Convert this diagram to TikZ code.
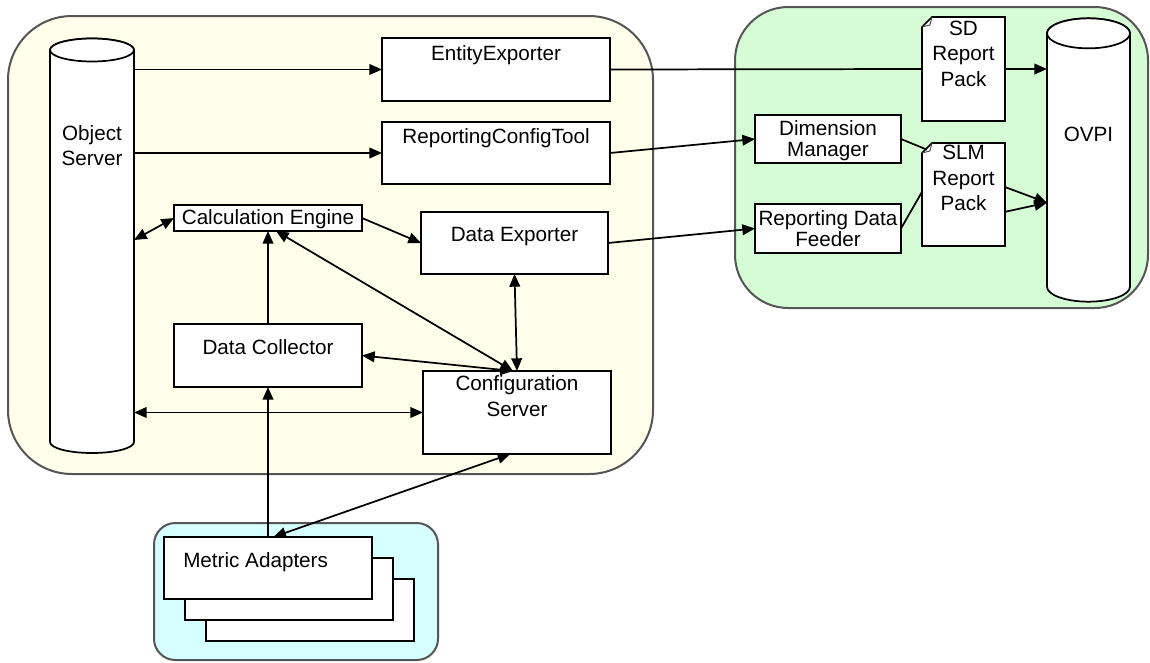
\documentclass[tikz,border=0pt]{standalone}
\usepackage{fontspec}
\setmainfont{Liberation Sans}
\usetikzlibrary{arrows.meta,calc}
\definecolor{paneYellow}{RGB}{255,255,236}
\definecolor{paneGreen}{RGB}{214,252,214}
\definecolor{paneBlue}{RGB}{214,255,255}
\definecolor{paneEdge}{RGB}{85,85,85}

\begin{document}
\begin{tikzpicture}[x=0.75pt,y=-0.75pt,
  every node/.style={font=\fontsize{15.5}{19}\selectfont},
  pane/.style={draw=paneEdge,line width=1.5pt},
  box/.style={draw=black,line width=1.3pt,fill=white},
  slot/.style={inner sep=0pt,outer sep=0pt},
  lbl/.style={anchor=base,align=center,inner sep=0pt},
  tight/.style={font=\fontsize{15.5}{16}\selectfont},
  link/.style={line width=1.3pt},
  arr/.style={link,-{Triangle[length=9.5pt,width=8pt]}},
  darr/.style={link,{Triangle[length=9.5pt,width=8pt]}-{Triangle[length=9.5pt,width=8pt]}},
]
\useasboundingbox (0,0) rectangle (1150,662);

% ---- grouping panes ----
\draw[pane,fill=paneYellow,rounded corners=48pt] (8,16) rectangle (653,474);
\draw[pane,fill=paneGreen,rounded corners=40pt] (735,7) rectangle (1148,308);
\draw[pane,fill=paneBlue,rounded corners=16pt] (154,523) rectangle (438,660);

% ---- Object Server (cylinder) ----
\node[slot,minimum width=63pt,minimum height=294pt] (os) at (92,246) {};
\draw[box] (os.north west) -- (os.south west)
  arc[start angle=180,end angle=0,x radius=42,y radius=11]
  -- (os.north east)
  arc[start angle=0,end angle=-180,x radius=42,y radius=11.5] -- cycle;
\draw[box] (os.north) ellipse[x radius=42,y radius=11.5];
\node[lbl] (os-t) at (92,165.5) {Object\\Server};

% ---- OVPI (cylinder) ----
\node[slot,minimum width=62.25pt,minimum height=190pt] (ovpi) at (1088.5,160) {};
\draw[box] (ovpi.north west) -- (ovpi.south west)
  arc[start angle=180,end angle=0,x radius=41.5,y radius=15]
  -- (ovpi.north east)
  arc[start angle=0,end angle=-180,x radius=41.5,y radius=15] -- cycle;
\draw[box] (ovpi.north) ellipse[x radius=41.5,y radius=15];
\node[lbl] (ovpi-t) at (1088.5,141.7) {OVPI};

% ---- components ----
\node[box,slot,minimum width=171pt,minimum height=47.25pt] (ee) at (496,69.5) {};
\node[lbl] (ee-t) at (496,60.5) {EntityExporter};

\node[box,slot,minimum width=171pt,minimum height=46.5pt] (rct) at (496,153) {};
\node[lbl] (rct-t) at (496,143) {ReportingConfigTool};

\node[box,slot,minimum width=141pt,minimum height=19.5pt] (ce) at (268,218) {};
\node[lbl] (ce-t) at (268,224) {Calculation Engine};

\node[box,slot,minimum width=140.25pt,minimum height=46.5pt] (de) at (514.5,243) {};
\node[lbl] (de-t) at (514.5,241.5) {Data Exporter};

\node[box,slot,minimum width=141pt,minimum height=47.25pt] (dc) at (268,355.5) {};
\node[lbl] (dc-t) at (268,354) {Data Collector};

\node[box,slot,minimum width=141pt,minimum height=62.25pt] (cs) at (517,412.5) {};
\node[lbl] (cs-t) at (517,416) {Configuration\\Server};

\node[box,slot,minimum width=109.5pt,minimum height=36pt] (dm) at (828,139) {};
\node[lbl,tight] (dm-t) at (828,156.5) {Dimension\\Manager};

\node[box,slot,minimum width=109.5pt,minimum height=36.75pt] (rdf) at (828,228.5) {};
\node[lbl,tight] (rdf-t) at (828,246.5) {Reporting Data\\Feeder};

% ---- report packs (documents with folded corner) ----
\node[slot,minimum width=62.25pt,minimum height=78pt] (sd) at (963.5,69) {};
\node[slot,minimum width=62.25pt,minimum height=77.25pt] (slm) at (963.5,194.5) {};
\foreach \d in {sd,slm}{
  \draw[box] ([xshift=7.5pt]\d.north west) -- (\d.north east) -- (\d.south east)
    -- (\d.south west) -- ([yshift=-7.5pt]\d.north west) -- cycle;
  \draw[line width=0.7pt,draw=black!70] ([xshift=7.5pt]\d.north west)
    -- ([xshift=6pt,yshift=-6pt]\d.north west) -- ([yshift=-7.5pt]\d.north west);
}
\node[lbl] (sd-t) at (963.5,86) {SD\\Report\\Pack};
\node[lbl] (slm-t) at (963.5,210.5) {SLM\\Report\\Pack};

% ---- Metric Adapters (stacked) ----
\node[box,slot,minimum width=156pt,minimum height=46.5pt] (ma3) at (310,610) {};
\node[box,slot,minimum width=156pt,minimum height=46.5pt] (ma2) at (289,589) {};
\node[box,slot,minimum width=156pt,minimum height=46.5pt] (ma) at (268,568) {};
\node[lbl,anchor=base west] (ma-t) at (183,567) {Metric Adapters};

% ---- connectors ----
\coordinate (hub) at ([xshift=-3pt]cs.north);
\draw[arr] (os.east |- ee.west) -- (ee.west);
\draw[arr] (os.east |- rct.west) -- (rct.west);
\draw[darr] ([yshift=4.5pt]os.east) -- (ce.west);
\draw[arr] (ce.east) -- (de.west);
\draw[arr] (dc.north) -- (ce.south);
\draw[darr] (hub) -- ([xshift=6pt]ce.south);
\draw[darr] (hub) -- (dc.east);
\draw[darr] (cs.north) -- (de.south);
\draw[darr] (os.east |- cs.west) -- (cs.west);
\draw[arr] (ma.north) -- (dc.south);
\draw[darr] ([xshift=4pt]ma.north) -- ([xshift=-5pt]cs.south);

\draw[link] (ee.east) -- (sd.west);
\draw[arr] (sd.east) -- (ovpi.west |- sd.east);
\draw[arr] (rct.east) -- (dm.west);
\draw[arr] (de.east) -- (rdf.west);
\draw[link] (dm.east) -- ([xshift=3.75pt,yshift=-5pt]slm.north west);
\draw[link] (rdf.east) -- ([yshift=2pt]slm.west);
\draw[arr] ([yshift=5.6pt]slm.east) -- ([yshift=-32pt]ovpi.west);
\draw[arr] ([yshift=-13pt]slm.east) -- ([yshift=-32pt]ovpi.west);
\end{tikzpicture}
\end{document}
